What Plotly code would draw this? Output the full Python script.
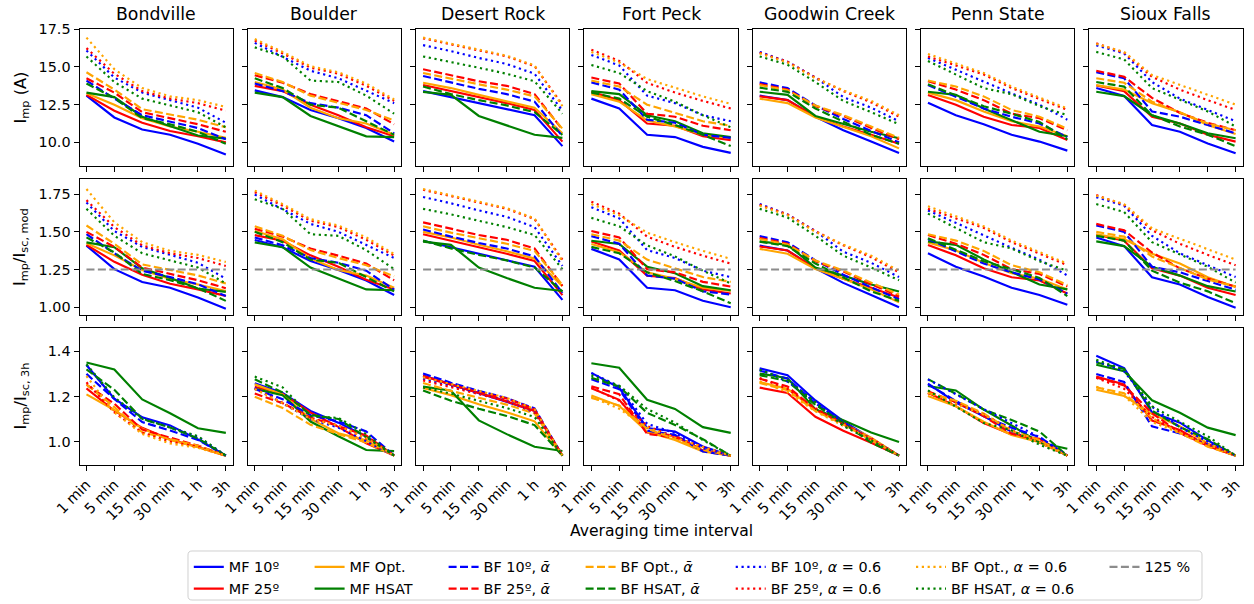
import re
import plotly.graph_objects as go

W, H = 1254, 604
FONT = "DejaVu Sans"
BASE = 14.4   # tick and legend text
LABEL = 16.2  # axis label text
TITLE = 17.3  # panel titles

intervals = ["1 min", "5 min", "15 min", "30 min", "1 h", "3h"]
stations = ["Bondville", "Boulder", "Desert Rock", "Fort Peck",
            "Goodwin Creek", "Penn State", "Sioux Falls"]

series_keys = ["MF10", "MF25", "MFOpt", "MFHSAT",
               "BF10a", "BF25a", "BFOpta", "BFHSATa",
               "BF10", "BF25", "BFOpt", "BFHSAT"]
series_labels = ["MF 10º", "MF 25º", "MF Opt.", "MF HSAT",
                 "BF 10º, <i>ᾱ</i>", "BF 25º, <i>ᾱ</i>", "BF Opt., <i>ᾱ</i>", "BF HSAT, <i>ᾱ</i>",
                 "BF 10º, <i>α</i> = 0.6", "BF 25º, <i>α</i> = 0.6",
                 "BF Opt., <i>α</i> = 0.6", "BF HSAT, <i>α</i> = 0.6"]
series_colors = ["blue", "red", "orange", "green"] * 3
series_dash = ["solid"] * 4 + ["8px,3.4px"] * 4 + ["2.2px,3.6px"] * 4

# Maximum-power current Imp (A) for each averaging interval
bondville_imp = {
    "MF10": [13.1, 11.65, 10.85, 10.5, 9.9, 9.2],
    "MF25": [13.15, 12.1, 11.3, 10.75, 10.4, 10.0],
    "MFOpt": [13.25, 12.5, 11.6, 11.05, 10.7, 10.3],
    "MFHSAT": [13.3, 13.0, 11.7, 11.1, 10.45, 10.25],
    "BF10a": [14.1, 12.9, 11.8, 11.4, 10.95, 10.2],
    "BF25a": [14.25, 13.3, 12.0, 11.6, 11.2, 10.7],
    "BFOpta": [14.65, 13.5, 12.2, 11.85, 11.5, 11.0],
    "BFHSATa": [13.9, 12.95, 11.6, 11.2, 10.7, 9.9],
    "BF10": [16.1, 14.3, 13.3, 12.8, 12.3, 11.3],
    "BF25": [16.25, 14.55, 13.4, 12.9, 12.6, 12.1],
    "BFOpt": [16.95, 14.85, 13.6, 13.05, 12.8, 12.35],
    "BFHSAT": [15.7, 14.0, 12.9, 12.45, 12.0, 11.0],
}
boulder_imp = {
    "MF10": [13.45, 13.0, 12.15, 11.6, 10.95, 10.05],
    "MF25": [13.75, 13.4, 12.5, 11.8, 11.0, 10.4],
    "MFOpt": [14.0, 13.5, 12.3, 11.6, 11.25, 10.5],
    "MFHSAT": [13.3, 13.0, 11.75, 11.05, 10.4, 10.35],
    "BF10a": [13.9, 13.4, 12.6, 12.3, 11.8, 10.6],
    "BF25a": [14.45, 13.95, 13.2, 12.75, 12.25, 11.2],
    "BFOpta": [14.6, 14.0, 13.1, 12.6, 12.15, 11.45],
    "BFHSATa": [14.25, 13.6, 12.5, 12.3, 11.4, 10.5],
    "BF10": [16.6, 15.7, 14.75, 14.25, 13.45, 12.6],
    "BF25": [16.75, 15.9, 14.95, 14.55, 13.75, 12.75],
    "BFOpt": [16.85, 16.0, 15.05, 14.65, 13.9, 12.85],
    "BFHSAT": [16.3, 15.7, 14.1, 14.0, 13.1, 11.9],
}
desert_rock_imp = {
    "MF10": [13.4, 13.0, 12.6, 12.2, 11.8, 9.75],
    "MF25": [13.8, 13.4, 13.0, 12.6, 12.15, 10.05],
    "MFOpt": [13.95, 13.6, 13.15, 12.75, 12.3, 10.6],
    "MFHSAT": [13.35, 13.15, 11.75, 11.1, 10.5, 10.3],
    "BF10a": [14.4, 13.95, 13.55, 13.2, 12.7, 10.4],
    "BF25a": [14.85, 14.45, 14.05, 13.75, 13.2, 10.85],
    "BFOpta": [14.6, 14.2, 13.85, 13.5, 13.05, 10.9],
    "BFHSATa": [13.7, 13.2, 12.8, 12.45, 12.0, 10.5],
    "BF10": [16.45, 16.05, 15.6, 15.2, 14.55, 12.1],
    "BF25": [16.9, 16.5, 16.1, 15.7, 15.05, 12.5],
    "BFOpt": [16.95, 16.55, 16.15, 15.75, 15.1, 12.4],
    "BFHSAT": [15.7, 15.35, 14.95, 14.55, 14.05, 11.9],
}
fort_peck_imp = {
    "MF10": [12.9, 12.25, 10.5, 10.35, 9.7, 9.3],
    "MF25": [13.35, 12.8, 11.25, 11.1, 10.4, 10.15],
    "MFOpt": [13.2, 12.7, 11.45, 11.05, 10.5, 10.3],
    "MFHSAT": [13.4, 13.2, 11.8, 11.4, 10.6, 10.35],
    "BF10a": [13.98, 13.5, 11.5, 11.3, 10.5, 10.3],
    "BF25a": [14.3, 13.9, 11.9, 11.7, 11.1, 10.8],
    "BFOpta": [14.1, 13.7, 12.5, 11.95, 11.4, 11.1],
    "BFHSATa": [13.3, 12.9, 11.7, 11.15, 10.5, 9.75],
    "BF10": [15.8, 15.1, 13.1, 12.6, 11.8, 11.4],
    "BF25": [16.15, 15.4, 13.95, 13.3, 12.75, 12.25],
    "BFOpt": [16.0, 15.3, 14.2, 13.6, 13.05, 12.55],
    "BFHSAT": [15.13, 14.6, 13.4, 12.7, 11.8, 11.0],
}
goodwin_creek_imp = {
    "MF10": [13.1, 12.8, 11.7, 10.8, 10.05, 9.3],
    "MF25": [13.05, 12.8, 11.7, 11.05, 10.5, 9.9],
    "MFOpt": [12.9, 12.6, 11.65, 11.05, 10.4, 9.6],
    "MFHSAT": [13.36, 13.15, 11.75, 11.25, 10.7, 10.27],
    "BF10a": [13.98, 13.6, 12.45, 11.55, 10.75, 10.0],
    "BF25a": [13.87, 13.5, 12.4, 11.75, 10.95, 10.2],
    "BFOpta": [13.8, 13.45, 12.45, 11.8, 11.05, 10.3],
    "BFHSATa": [13.63, 13.35, 12.25, 11.4, 10.5, 9.9],
    "BF10": [16.0, 15.35, 14.3, 13.0, 12.3, 11.4],
    "BF25": [15.95, 15.35, 14.3, 13.4, 12.65, 11.7],
    "BFOpt": [15.9, 15.3, 14.25, 13.45, 12.75, 11.8],
    "BFHSAT": [15.7, 15.15, 14.0, 12.75, 12.0, 11.2],
}
penn_state_imp = {
    "MF10": [12.63, 11.8, 11.2, 10.5, 10.05, 9.45],
    "MF25": [13.14, 12.5, 11.7, 11.15, 10.95, 10.15],
    "MFOpt": [13.3, 12.8, 12.05, 11.4, 11.05, 10.4],
    "MFHSAT": [13.36, 13.15, 12.25, 11.5, 10.7, 10.4],
    "BF10a": [13.8, 13.0, 12.25, 11.7, 11.25, 10.35],
    "BF25a": [14.05, 13.5, 12.8, 11.9, 11.6, 10.8],
    "BFOpta": [14.1, 13.7, 13.05, 12.15, 11.7, 10.9],
    "BFHSATa": [13.85, 13.15, 12.4, 11.9, 11.35, 10.2],
    "BF10": [15.6, 14.8, 14.0, 13.25, 12.5, 11.5],
    "BF25": [15.7, 15.1, 14.5, 13.6, 12.9, 12.15],
    "BFOpt": [15.86, 15.25, 14.6, 13.7, 13.0, 12.25],
    "BFHSAT": [15.4, 14.5, 13.6, 13.2, 12.4, 11.8],
}
sioux_falls_imp = {
    "MF10": [13.6, 13.07, 11.15, 10.7, 9.93, 9.27],
    "MF25": [13.77, 13.4, 11.7, 11.25, 10.5, 10.05],
    "MFOpt": [13.8, 13.5, 12.6, 12.0, 11.15, 10.55],
    "MFHSAT": [13.36, 13.07, 11.8, 11.25, 10.6, 10.27],
    "BF10a": [14.65, 14.25, 12.05, 11.7, 11.15, 10.6],
    "BF25a": [14.75, 14.35, 12.95, 11.95, 11.3, 10.8],
    "BFOpta": [14.25, 13.95, 12.7, 11.95, 11.25, 10.8],
    "BFHSATa": [14.0, 13.7, 11.8, 11.05, 10.5, 9.75],
    "BF10": [16.44, 15.9, 14.0, 12.9, 12.15, 11.4],
    "BF25": [16.57, 15.95, 14.35, 13.5, 12.8, 12.15],
    "BFOpt": [16.53, 16.0, 14.47, 13.8, 13.15, 12.5],
    "BFHSAT": [16.0, 15.5, 13.6, 12.8, 12.05, 11.05],
}
station_imp = [bondville_imp, boulder_imp, desert_rock_imp, fort_peck_imp,
               goodwin_creek_imp, penn_state_imp, sioux_falls_imp]

# Module short-circuit current (A): monofacial / bifacial
isc_mod = {"MF": 9.3, "BF": 9.5}

# Imp/Isc,3h reached at the 3 h interval
ratio_3h_default = 0.94
ratio_3h_mf_hsat = [1.04, 0.96, 0.96, 1.04, 1.00, 0.97, 1.03]

threshold_125 = 1.25

# ---- panel geometry (pixels) ----
COL_X0, COL_PITCH, COL_W = 79.5, 168.3, 153.3
ROW_Y0, ROW_PITCH, ROW_H = 29.3, 149.5, 136.4
y_ranges = [[8.45, 17.5], [0.947, 1.852], [0.90, 1.50]]
y_ticks = [[10.0, 12.5, 15.0, 17.5], [1.00, 1.25, 1.50, 1.75], [1.0, 1.2, 1.4]]
y_fmt = [".1f", ".2f", ".1f"]
y_titles = ["I<sub>mp</sub> (A)", "I<sub>mp</sub>/I<sub>sc, mod</sub>", "I<sub>mp</sub>/I<sub>sc, 3h</sub>"]

legend_names = ["legend"] + [f"legend{i}" for i in range(2, 8)]

fig = go.Figure()
layout = {}
xs = list(range(len(intervals)))

for r in range(3):
    for c in range(7):
        n = r * 7 + c + 1
        sfx = "" if n == 1 else str(n)
        x0 = COL_X0 + c * COL_PITCH
        y0 = ROW_Y0 + r * ROW_PITCH
        layout[f"xaxis{sfx}"] = dict(
            domain=[x0 / W, (x0 + COL_W) / W], anchor=f"y{sfx}",
            range=[-0.25, 5.25], tickvals=xs, ticktext=intervals,
            showticklabels=(r == 2), tickangle=-45,
            ticks="outside", ticklen=5, tickwidth=1, tickcolor="black",
            showline=True, mirror=True, linecolor="black", linewidth=1,
            showgrid=False, zeroline=False,
            tickfont=dict(family=FONT, size=BASE, color="black"))
        layout[f"yaxis{sfx}"] = dict(
            domain=[1 - (y0 + ROW_H) / H, 1 - y0 / H], anchor=f"x{sfx}",
            range=y_ranges[r], tickvals=y_ticks[r], tickformat=y_fmt[r],
            showticklabels=(c == 0),
            ticks="outside", ticklen=5, tickwidth=1, tickcolor="black",
            showline=True, mirror=True, linecolor="black", linewidth=1,
            showgrid=False, zeroline=False,
            tickfont=dict(family=FONT, size=BASE, color="black"))

        imp = station_imp[c]
        for k, key in enumerate(series_keys):
            vals = imp[key]
            if r == 0:
                yv = vals
            elif r == 1:
                yv = [v / isc_mod[key[:2]] for v in vals]
            else:
                end_ratio = ratio_3h_mf_hsat[c] if key == "MFHSAT" else ratio_3h_default
                isc_3h = vals[-1] / end_ratio
                yv = [v / isc_3h for v in vals]
            fig.add_trace(go.Scatter(
                x=xs, y=yv, mode="lines", name=series_labels[k],
                line=dict(color=series_colors[k], width=2.15, dash=series_dash[k]),
                xaxis=f"x{sfx}", yaxis=f"y{sfx}",
                legend=legend_names[k // 2], legendgroup=key,
                showlegend=(n == 1), hoverinfo="skip"))
        if r == 1:
            fig.add_trace(go.Scatter(
                x=xs, y=[threshold_125] * len(xs), mode="lines", name="125 %",
                line=dict(color="#8c8c8c", width=2.15, dash="8px,3.4px"),
                xaxis=f"x{sfx}", yaxis=f"y{sfx}",
                legend=legend_names[6], legendgroup="thr",
                showlegend=(c == 0), hoverinfo="skip"))

annotations = []
for c, name in enumerate(stations):
    xc = COL_X0 + c * COL_PITCH + COL_W / 2
    annotations.append(dict(text=name, x=xc / W, y=1 - 14 / H, xref="paper", yref="paper",
                            showarrow=False, xanchor="center", yanchor="middle",
                            font=dict(family=FONT, size=TITLE, color="black")))
for r, t in enumerate(y_titles):
    yc = ROW_Y0 + r * ROW_PITCH + ROW_H / 2
    annotations.append(dict(text=t, x=21 / W, y=1 - yc / H, xref="paper", yref="paper",
                            showarrow=False, textangle=-90, xanchor="center", yanchor="middle",
                            font=dict(family=FONT, size=LABEL, color="black")))
annotations.append(dict(text="Averaging time interval", x=661 / W, y=1 - 531 / H,
                        xref="paper", yref="paper", showarrow=False,
                        xanchor="center", yanchor="middle",
                        font=dict(family=FONT, size=15.6, color="black")))

# legend columns: start of each column's line sample (px)
legend_line_px = [193.8, 314.6, 448.6, 585.6, 735.7, 916.0, 1109.5]
for i, ln in enumerate(legend_names):
    layout[ln] = dict(x=(legend_line_px[i] - 5) / W, y=1 - 551 / H, xanchor="left", yanchor="top",
                      orientation="v", bgcolor="rgba(0,0,0,0)", borderwidth=0,
                      traceorder="grouped", tracegroupgap=0, itemwidth=30,
                      font=dict(family=FONT, size=BASE, color="black"))

# legend frame with rounded corners
bx0, bx1, by0, by1, rad = 188, 1202, 551, 600, 4
path = (f"M{bx0 + rad},{by0} L{bx1 - rad},{by0} Q{bx1},{by0} {bx1},{by0 + rad} "
        f"L{bx1},{by1 - rad} Q{bx1},{by1} {bx1 - rad},{by1} L{bx0 + rad},{by1} "
        f"Q{bx0},{by1} {bx0},{by1 - rad} L{bx0},{by0 + rad} Q{bx0},{by0} {bx0 + rad},{by0} Z")


def px_path_to_paper(p):
    toks = re.findall(r"[MLQZ]|-?\d+\.?\d*", p)
    out, coords = [], []
    for t in toks:
        if t in "MLQZ":
            out.append(t)
        else:
            coords.append(float(t))
            if len(coords) == 2:
                out.append(f"{coords[0] / W:.5f},{1 - coords[1] / H:.5f}")
                coords = []
    return " ".join(out)


shapes = [dict(type="path", path=px_path_to_paper(path), xref="paper", yref="paper",
               line=dict(color="#d0d0d0", width=1), fillcolor="rgba(255,255,255,0.8)",
               layer="below")]

fig.update_layout(
    width=W, height=H, margin=dict(l=0, r=0, t=0, b=0, pad=0, autoexpand=False),
    paper_bgcolor="white", plot_bgcolor="white",
    annotations=annotations, shapes=shapes, **layout)

fig.write_html("out.html")
